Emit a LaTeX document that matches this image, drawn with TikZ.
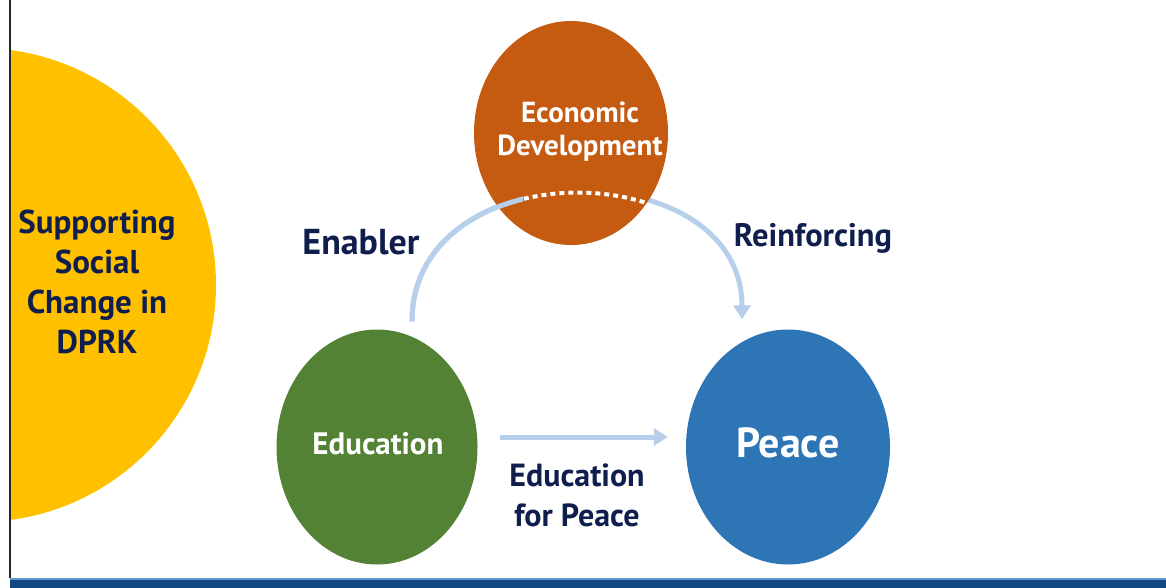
\documentclass[tikz,border=0pt]{standalone}
\usepackage{fontspec}
\setmainfont{PT Sans}
\usetikzlibrary{shapes.geometric,arrows.meta,calc}
\definecolor{ygold}{RGB}{255,192,0}
\definecolor{orng}{RGB}{197,90,17}
\definecolor{grn}{RGB}{84,130,53}
\definecolor{blu}{RGB}{46,117,182}
\definecolor{navy}{RGB}{16,30,78}
\definecolor{lblue}{RGB}{183,207,234}
\definecolor{barblue}{RGB}{18,72,128}
\definecolor{barline}{RGB}{95,150,205}
\begin{document}
\begin{tikzpicture}[x=1pt,y=-1pt,
  bubble/.style={ellipse,inner sep=0pt},
  btext/.style={text=white,align=center,inner sep=0pt,font=\bfseries\fontsize{31}{33}\selectfont},
  lbl/.style={text=navy,align=center,font=\bfseries\fontsize{33}{40}\selectfont},
  flow/.style={draw=lblue,line width=5pt,-{Triangle[length=14pt,width=17pt]}},
  flowplain/.style={draw=lblue,line width=5pt},
  hidden/.style={draw=white,line width=4pt,dash pattern=on 5pt off 4pt}]
\useasboundingbox (0,0) rectangle (1166,588);
% yellow half circle
\begin{scope}
  \clip (10,0) rectangle (1166,578);
  \fill[ygold] (-21,285) ellipse [x radius=237pt, y radius=237pt];
\end{scope}
\node[lbl,font=\bfseries\fontsize{33}{40}\selectfont] (social) at (97,282) {Supporting\\Social\\Change in\\DPRK};
% frame
\draw[line width=1.5pt,black!85] (10,0) -- (10,578);
\fill[barblue] (10,578) rectangle (1166,588);
\draw[barline,line width=1.5pt] (10,578.75) -- (1166,578.75);
% circles
\node[bubble,fill=grn,minimum width=201pt,minimum height=235pt] (edu) at (377,447) {};
\node[btext] (edutext) at (378,444) {Education};
\node[bubble,fill=blu,minimum width=204pt,minimum height=235pt] (peace) at (788,447) {};
\node[btext,font=\bfseries\fontsize{42}{44}\selectfont] (peacetext) at (788,443) {Peace};
\coordinate (arcS) at ($(edu.north)+(35,-8)$);
\coordinate (arcE) at ($(peace.north)+(-46,-10)$);
\coordinate (cA) at (412,150);
\coordinate (cB) at (742,150);
\draw[flow] (arcS) .. controls (cA) and (cB) .. (arcE);
\node[bubble,fill=orng,minimum width=194pt,minimum height=224pt] (econ) at (571,133) {};
\node[btext,font=\bfseries\fontsize{29}{33}\selectfont] (econtext) at (580,132) {Economic\\Development};
\begin{scope}
  \clip (0,0) rectangle (523,588);
  \draw[flowplain] (arcS) .. controls (cA) and (cB) .. (arcE);
\end{scope}
\begin{scope}
  \clip (523,0) rectangle (648,588);
  \draw[hidden] (arcS) .. controls (cA) and (cB) .. (arcE);
\end{scope}
\draw[flow] ($(edu.east)+(22,-10)$) -- ($(peace.west)+(-18,-10)$);
% labels
\node[lbl,font=\bfseries\fontsize{36}{40}\selectfont] (enabler) at (361,242) {Enabler};
\node[lbl,font=\bfseries\fontsize{32.5}{40}\selectfont] (reinf) at (813,238) {Reinforcing};
\node[lbl,font=\bfseries\fontsize{32}{40}\selectfont] (efp) at (577,495) {Education\\for Peace};
\end{tikzpicture}
\end{document}
